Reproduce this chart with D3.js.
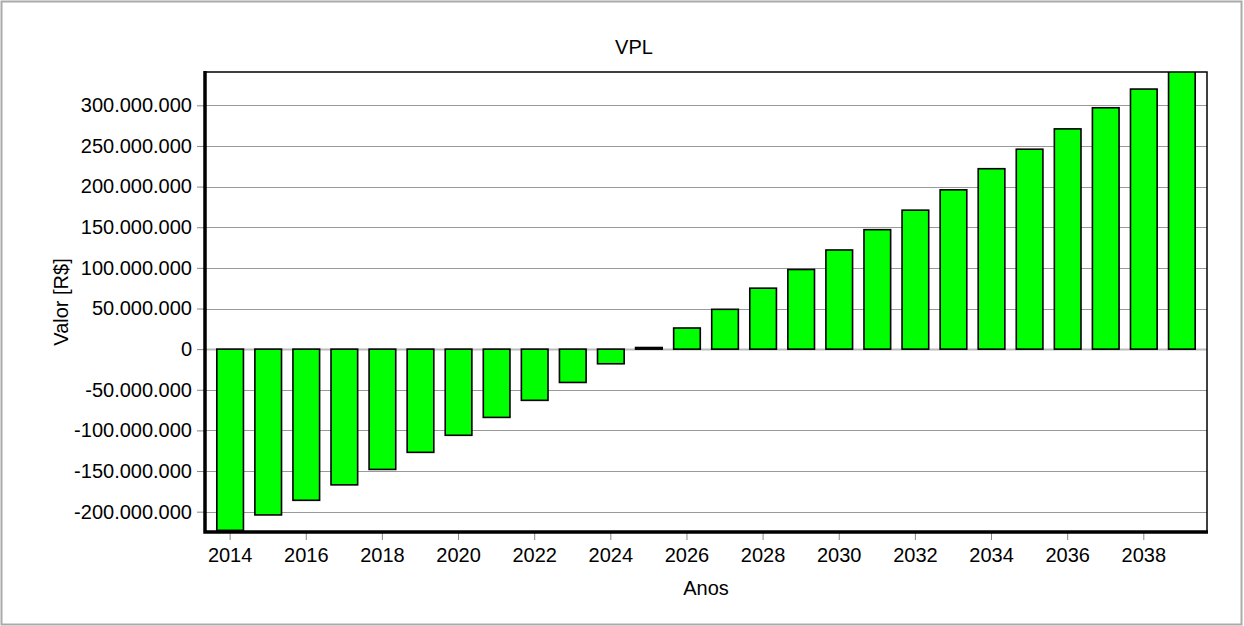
<!DOCTYPE html>
<html>
<head>
<meta charset="utf-8">
<script src="https://cdn.jsdelivr.net/npm/d3@7"></script>
<style>
  body { margin: 0; background: #fff; }
  svg { display: block; font-family: Arial, "Liberation Sans", sans-serif; }
</style>
</head>
<body>
<div id="chart"></div>
<script>
// chart data
const years = [2014, 2015, 2016, 2017, 2018, 2019, 2020, 2021, 2022, 2023, 2024, 2025, 2026,
  2027, 2028, 2029, 2030, 2031, 2032, 2033, 2034, 2035, 2036, 2037, 2038, 2039];
const vpl = [-223e6, -204e6, -186e6, -167e6, -148e6, -127e6, -106e6, -84e6, -63e6, -41e6, -18e6, 2e6, 26e6,
  49e6, 75e6, 98e6, 122e6, 147e6, 171e6, 196e6, 222e6, 246e6, 271e6, 297e6, 320e6, 345e6];
const yTicks = [-200e6, -150e6, -100e6, -50e6, 0, 50e6, 100e6, 150e6, 200e6, 250e6, 300e6];
const xTickYears = [2014, 2016, 2018, 2020, 2022, 2024, 2026, 2028, 2030, 2032, 2034, 2036, 2038];
const titleText = 'VPL';
const xTitle = 'Anos';
const yTitle = 'Valor [R$]';

const W = 1244, H = 626;
const plot = { left: 205, right: 1207, top: 72, bottom: 532 };

const svg = d3.select('#chart')
  .append('svg')
  .attr('width', W)
  .attr('height', H);

// outer frame
svg.append('rect')
  .attr('x', 1.5).attr('y', 1.5)
  .attr('width', W - 4).attr('height', H - 3)
  .attr('fill', 'none')
  .attr('stroke', '#aaa')
  .attr('stroke-width', 2);

const ptBR = d3.formatLocale({ decimal: ',', thousands: '.', grouping: [3], currency: ['R$', ''], minus: '-' });
const fmt = ptBR.format(',d');

// scales
const x = d3.scaleBand()
  .domain(years)
  .range([plot.left, plot.right])
  .paddingInner(0.3)
  .paddingOuter(0.31);

const y = d3.scaleLinear()
  .domain([-225e6, 341e6])
  .range([plot.bottom, plot.top]);

// grid lines
svg.append('g')
  .selectAll('line')
  .data(yTicks)
  .join('line')
  .attr('x1', plot.left).attr('x2', plot.right)
  .attr('y1', d => Math.round(y(d)) + 0.5).attr('y2', d => Math.round(y(d)) + 0.5)
  .attr('stroke', d => d === 0 ? '#bbb' : '#999')
  .attr('stroke-width', d => d === 0 ? 2 : 1);

// clip for bars
svg.append('clipPath').attr('id', 'plotClip')
  .append('rect')
  .attr('x', plot.left).attr('y', plot.top)
  .attr('width', plot.right - plot.left).attr('height', plot.bottom - plot.top);

// bars
svg.append('g')
  .attr('clip-path', 'url(#plotClip)')
  .selectAll('rect')
  .data(years.map((yr, i) => ({ yr, v: vpl[i] })))
  .join('rect')
  .attr('x', d => x(d.yr))
  .attr('width', x.bandwidth())
  .attr('y', d => y(Math.max(0, d.v)))
  .attr('height', d => Math.abs(y(d.v) - y(0)))
  .attr('fill', '#00ff00')
  .attr('stroke', '#000')
  .attr('stroke-width', 1.6);

// plot frame: thin top/right, thick left/bottom
svg.append('rect')
  .attr('x', plot.left).attr('y', plot.top)
  .attr('width', plot.right - plot.left).attr('height', plot.bottom - plot.top)
  .attr('fill', 'none')
  .attr('stroke', '#000')
  .attr('stroke-width', 1.5);

// y axis
const yAxis = svg.append('g')
  .attr('transform', `translate(${plot.left},0)`)
  .call(d3.axisLeft(y).tickValues(yTicks).tickFormat(fmt).tickSizeInner(8).tickSizeOuter(0).tickPadding(5));
yAxis.select('.domain').remove();
yAxis.selectAll('.tick line').attr('stroke', '#888');
yAxis.selectAll('.tick text')
  .style('font-size', '20px')
  .attr('fill', '#000');

// x axis
const xAxis = svg.append('g')
  .attr('transform', `translate(0,${plot.bottom})`)
  .call(d3.axisBottom(x).tickValues(xTickYears).tickSizeInner(8).tickSizeOuter(0).tickPadding(8));
xAxis.select('.domain').remove();
xAxis.selectAll('.tick line').attr('stroke', '#888');
xAxis.selectAll('.tick text')
  .style('font-size', '20px')
  .attr('fill', '#000');

// thick left and bottom axis lines
svg.append('path')
  .attr('d', `M${plot.left},${plot.top - 1}V${plot.bottom}H${plot.right + 1}`)
  .attr('fill', 'none')
  .attr('stroke', '#000')
  .attr('stroke-width', 3.5);

// titles
svg.append('text')
  .attr('x', 634).attr('y', 54)
  .attr('text-anchor', 'middle')
  .style('font-size', '20px')
  .text(titleText);

svg.append('text')
  .attr('x', (plot.left + plot.right) / 2).attr('y', 595)
  .attr('text-anchor', 'middle')
  .style('font-size', '20px')
  .text(xTitle);

svg.append('text')
  .attr('transform', `translate(68,${(plot.top + plot.bottom) / 2}) rotate(-90)`)
  .attr('text-anchor', 'middle')
  .style('font-size', '20px')
  .text(yTitle);
</script>
</body>
</html>
